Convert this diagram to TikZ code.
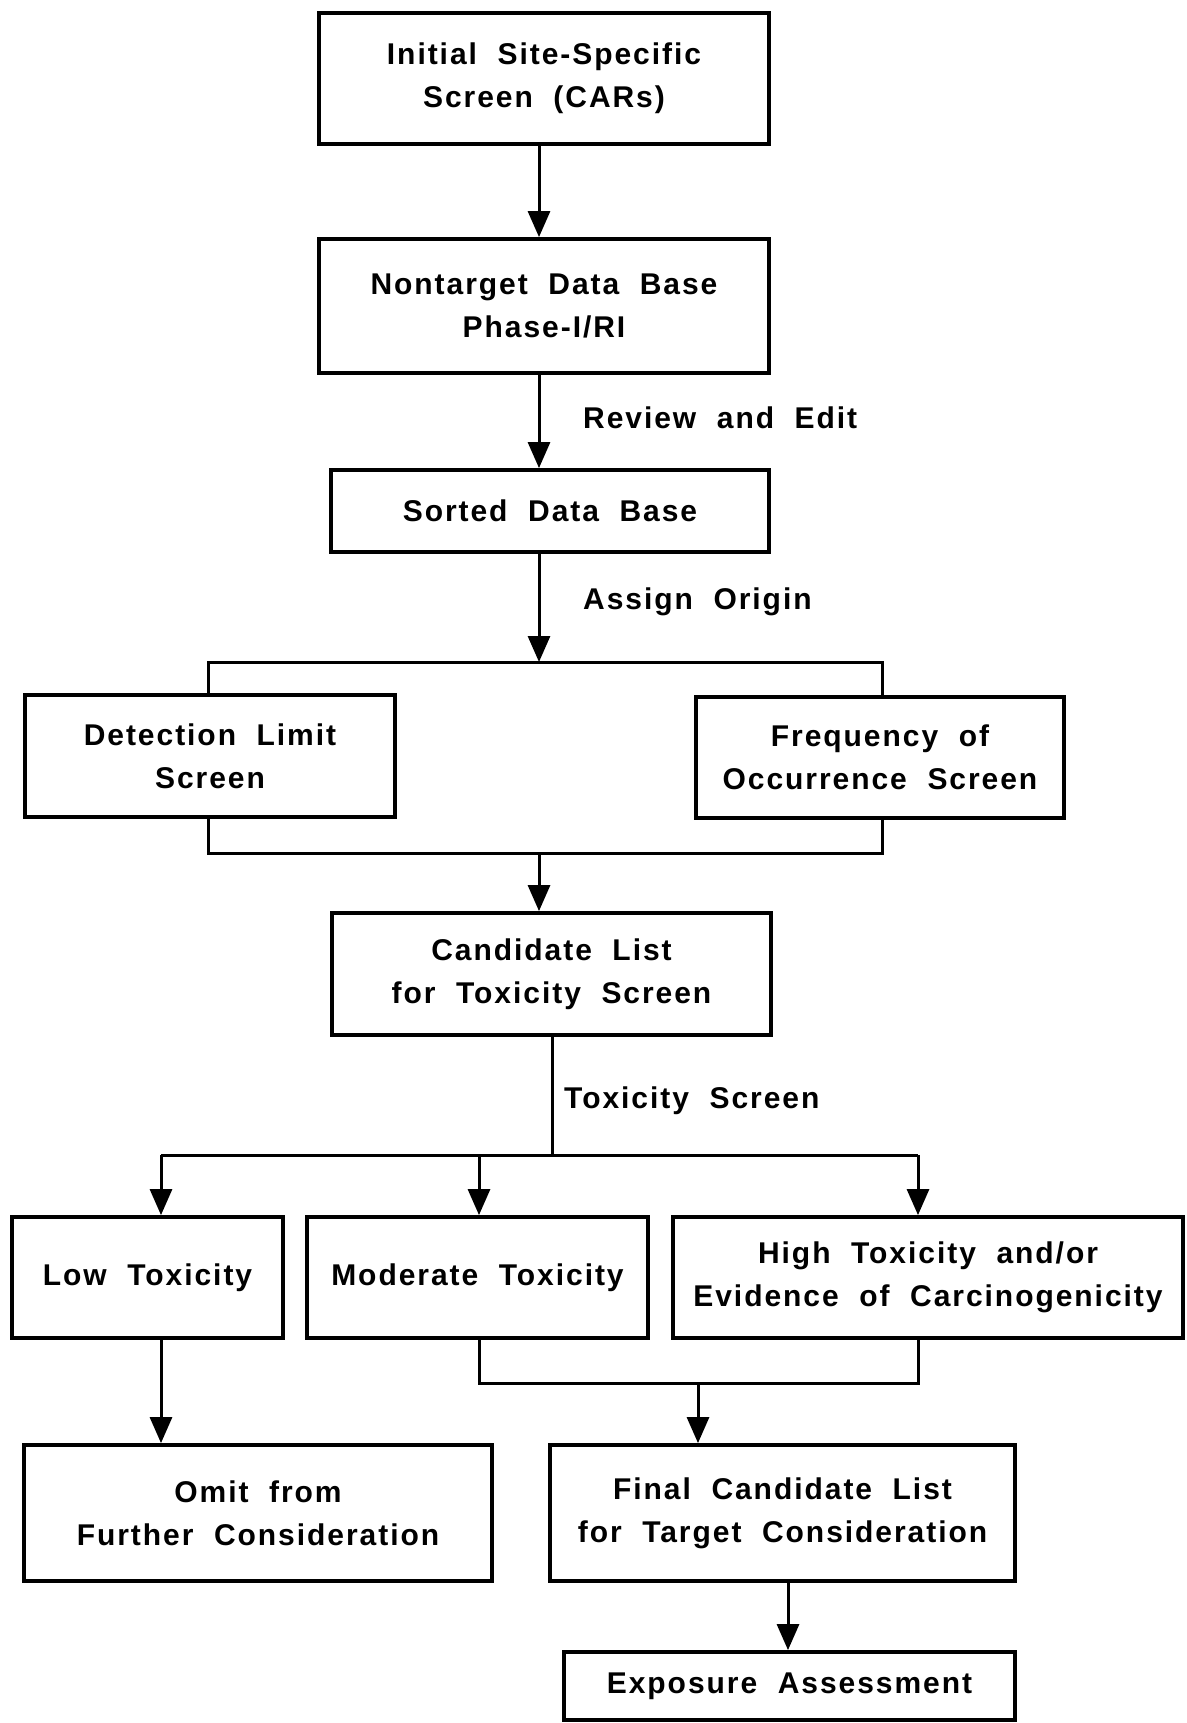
\documentclass[tikz,border=0pt]{standalone}
\usepackage{fontspec}
\setmainfont{Liberation Sans}[LetterSpace=6.5, WordSpace=2.0]
\usetikzlibrary{arrows.meta}
\begin{document}
\begin{tikzpicture}[x=1pt,y=-1pt,
  box/.style={draw, line width=3.8pt, inner sep=0pt, align=center,
    font=\fontsize{30}{43}\selectfont\bfseries},
  lbl/.style={anchor=west, inner sep=0pt, font=\fontsize{30}{43}\selectfont\bfseries},
  conn/.style={line width=3pt},
  arr/.style={conn, -{Triangle[length=26pt,width=22pt]}}]
\useasboundingbox (0,0) rectangle (1186,1723);
\fill[white] (0,0) rectangle (1186,1723);
% boxes
\node[box, minimum width=450pt, minimum height=131pt] (b1) at (544,78.5) {Initial Site-Specific\\Screen (CARs)};
\node[box, minimum width=450pt, minimum height=134pt] (b2) at (544,306) {Nontarget Data Base\\Phase-I/RI};
\node[box, minimum width=438pt, minimum height=82pt] (b3) at (550,511) {Sorted Data Base};
\node[box, minimum width=370pt, minimum height=122pt] (b4) at (210,756) {Detection Limit\\Screen};
\node[box, minimum width=368pt, minimum height=121pt] (b5) at (880,757.5) {Frequency of\\Occurrence Screen};
\node[box, minimum width=439pt, minimum height=122pt] (b6) at (551.5,974) {Candidate List\\for Toxicity Screen};
\node[box, minimum width=271pt, minimum height=121pt] (b7) at (147.5,1277.5) {Low Toxicity};
\node[box, minimum width=341pt, minimum height=121pt] (b8) at (477.5,1277.5) {Moderate Toxicity};
\node[box, minimum width=510pt, minimum height=121pt] (b9) at (928,1277.5) {High Toxicity and/or\\Evidence of Carcinogenicity};
\node[box, minimum width=468pt, minimum height=136pt] (b10) at (258,1513) {Omit from\\Further Consideration};
\node[box, minimum width=465pt, minimum height=136pt] (b11) at (782.5,1513) {Final Candidate List\\for Target Consideration};
\node[box, minimum width=451pt, minimum height=68pt] (b12) at (789.5,1686) {Exposure Assessment};
% labels
\node[lbl] (l1) at (583,418) {Review and Edit};
\node[lbl] (l2) at (583,602) {Assign Origin};
\node[lbl] (l3) at (564,1101) {Toxicity Screen};
% helper coordinates
\coordinate (sp) at (539,0);
\coordinate (tj) at (539,662);
\coordinate (bj) at (539,853);
\coordinate (tx) at (552,1155);
\coordinate (mj) at (698,1383);
\coordinate (c4) at (208,0);
\coordinate (c5) at (882,0);
\coordinate (c7) at (161,0);
\coordinate (c8) at (479,0);
\coordinate (c9) at (918,0);
\coordinate (c11) at (788,0);
% connectors
\draw[arr] (b1.south -| sp) -- (b2.north -| sp);
\draw[arr] (b2.south -| sp) -- (b3.north -| sp);
\draw[arr] (b3.south -| sp) -- (tj);
\draw[conn] (b4.north -| c4) -- (tj -| c4) -- (tj -| c5) -- (b5.north -| c5);
\draw[conn] (b4.south -| c4) -- (bj -| c4) -- (bj -| c5) -- (b5.south -| c5);
\draw[arr] (bj) -- (b6.north -| bj);
\draw[conn] (b6.south -| tx) -- (tx);
\draw[conn] (tx -| c7) -- (tx -| c9);
\draw[arr] (tx -| c7) -- (b7.north -| c7);
\draw[arr] (tx -| c8) -- (b8.north -| c8);
\draw[arr] (tx -| c9) -- (b9.north -| c9);
\draw[arr] (b7.south -| c7) -- (b10.north -| c7);
\draw[conn] (b8.south -| c8) -- (mj -| c8) -- (mj -| c9) -- (b9.south -| c9);
\draw[arr] (mj) -- (b11.north -| mj);
\draw[arr] (b11.south -| c11) -- (b12.north -| c11);
\end{tikzpicture}
\end{document}
